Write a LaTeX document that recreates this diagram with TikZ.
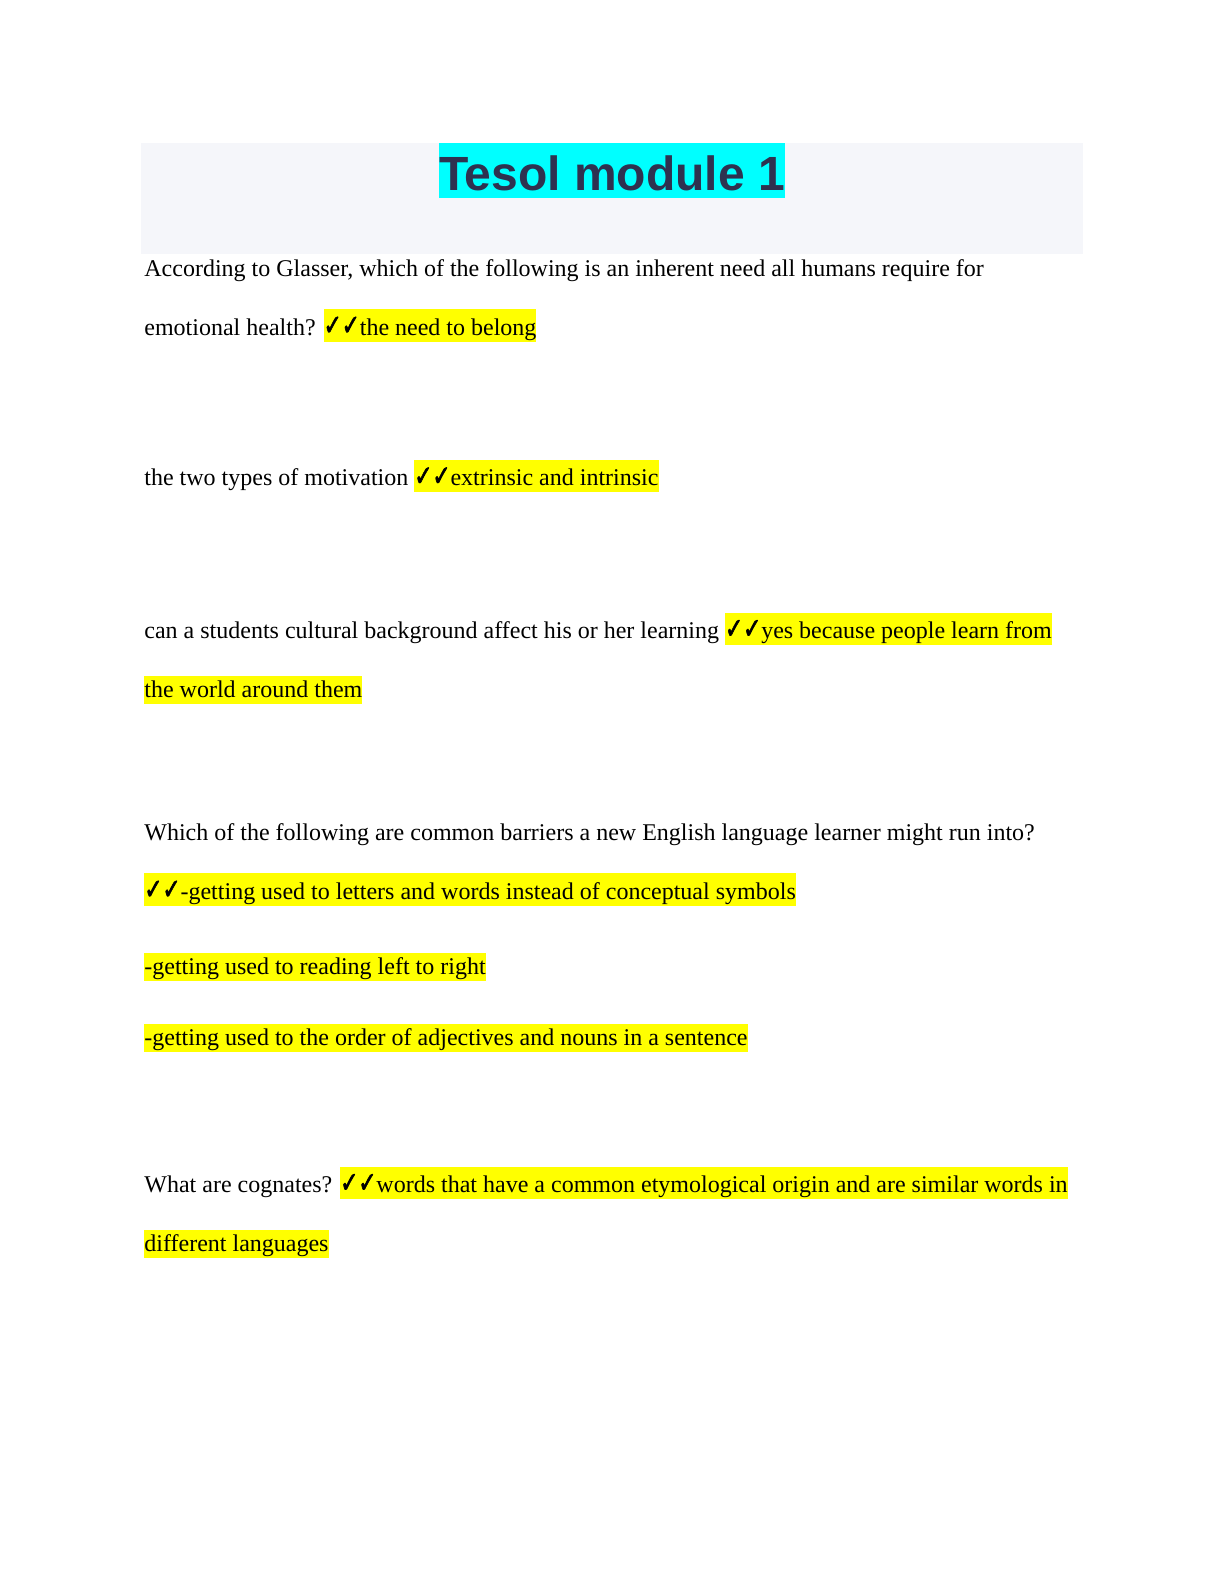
\documentclass[tikz,border=0pt]{standalone}
\usepackage{fontspec}
\usepackage{graphicx}
\setmainfont{Liberation Serif}
\newfontfamily\titlefont{Liberation Sans}
\newfontfamily\chkfont{DejaVu Sans}[FakeBold=2.5]
\definecolor{titlebg}{RGB}{245,246,250}
\definecolor{titleink}{RGB}{46,50,80}
\definecolor{hlyellow}{RGB}{255,255,0}
\definecolor{hlcyan}{RGB}{0,255,255}
\newcommand\chkpair{\scalebox{0.9}[1.2]{\chkfont ✓✓}}
\newcommand\hlplain[1]{{\setlength\fboxsep{0pt}\colorbox{hlyellow}{\rule[-3.35pt]{0pt}{14pt}#1}}}
\newcommand\hlcheck[1]{{\setlength\fboxsep{0pt}\colorbox{hlyellow}{\rule[-3.35pt]{0pt}{16.2pt}\chkpair#1}}}
\tikzset{
  textline/.style={anchor=base west, inner sep=0pt, font=\fontsize{12pt}{14pt}\selectfont},
  titlebox/.style={anchor=base, inner sep=0pt, fill=hlcyan, text=titleink, text height=23.35pt, text depth=4.15pt, font=\titlefont\bfseries\fontsize{24pt}{28pt}\selectfont}
}
\begin{document}
\begin{tikzpicture}[x=0.5pt,y=-0.5pt]
\useasboundingbox (0,0) rectangle (1224,1584);
\fill[titlebg] (141,143) rectangle (1083,254);
\node[titlebox] (title) at (612,190) {Tesol module 1};
\node[textline] (q1a) at (144,276.7) {According to Glasser, which of the following is an inherent need all humans require for};
\node[textline] (q1b) at (144,335) {emotional health? \hlcheck{the need to belong}};
\node[textline] (q2) at (144,485.7) {the two types of motivation \hlcheck{extrinsic and intrinsic}};
\node[textline] (q3a) at (144,638.3) {can a students cultural background affect his or her learning \hlcheck{yes because people learn from}};
\node[textline] (q3b) at (144,697.3) {\hlplain{the world around them}};
\node[textline] (q4) at (144,840) {Which of the following are common barriers a new English language learner might run into?};
\node[textline] (q4a) at (144,899) {\hlcheck{-getting used to letters and words instead of conceptual symbols}};
\node[textline] (q4b) at (144,974.3) {\hlplain{-getting used to reading left to right}};
\node[textline] (q4c) at (144,1045.7) {\hlplain{-getting used to the order of adjectives and nouns in a sentence}};
\node[textline] (q5a) at (144,1192.3) {What are cognates? \hlcheck{words that have a common etymological origin and are similar words in}};
\node[textline] (q5b) at (144,1251.7) {\hlplain{different languages}};
\end{tikzpicture}
\end{document}
